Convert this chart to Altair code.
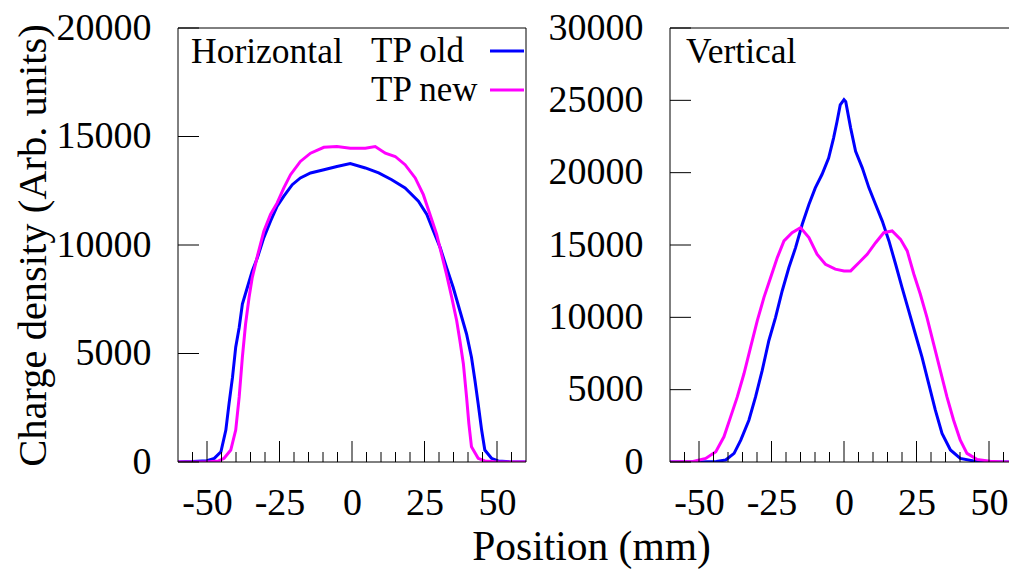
import altair as alt
import pandas as pd

FONT = "Liberation Serif"
series = ["TP old", "TP new"]
colors = ["#0000ff", "#ff00ff"]
panel_titles = ["Horizontal", "Vertical"]
x_title = "Position (mm)"
y_title = "Charge density (Arb. units)"

# Horizontal profile
h_old_x = [-60, -55, -50, -47.5, -45.2, -43.5, -42.4, -41.2, -40.1, -38.9, -37.8, -36.1, -34.4, -32.6,
           -30.4, -28.1, -25.8, -23.5, -20.6, -17.8, -14.3, -9.7, -5.2, -0.6, 4.6, 9.2, 13.7, 18.3,
           22.9, 25.8, 28.1, 30.4, 32.6, 34.9, 37.2, 39.5, 41.2, 42.4, 43.5, 44.7, 45.8, 48.1, 50.4, 55, 60]
h_old_y = [0, 20, 60, 170, 470, 1470, 2690, 3910, 5290, 6200, 7280, 8040, 8800, 9420,
           10340, 11100, 11790, 12250, 12780, 13090, 13320, 13470, 13620, 13750, 13550, 13320, 13010, 12630,
           12020, 11410, 10640, 9880, 8960, 8040, 6970, 5900, 4830, 3760, 2690, 1470, 550, 170, 50, 0, 0]
h_new_x = [-60, -50, -46, -44.1, -41.8, -40.1, -38.9, -37.8, -36.7, -35.5, -34.4, -32.6, -30.4, -28.1,
           -25.8, -23.5, -21.2, -17.8, -14.3, -9.7, -5.2, -0.6, 4.6, 8.0, 11.5, 14.9, 18.3, 21.8,
           24.6, 26.9, 29.2, 30.9, 32.6, 34.4, 36.1, 37.2, 38.4, 39.5, 40.3, 41.2, 43.5, 45.8, 50, 60]
h_new_y = [0, 0, 50, 170, 550, 1470, 3000, 4830, 6360, 7580, 8500, 9500, 10640, 11410,
           11940, 12630, 13240, 13850, 14230, 14500, 14540, 14460, 14460, 14540, 14230, 14080, 13700, 13090,
           12320, 11410, 10490, 9570, 8650, 7580, 6510, 5600, 4530, 3000, 1770, 700, 170, 50, 0, 0]

# Vertical profile
v_old_x = [-60, -50, -44, -40.8, -37.9, -35.6, -32.8, -30.5, -28.2, -25.9, -23.6, -21.3, -19.0, -16.7,
           -14.4, -12.1, -9.9, -7.6, -5.3, -3.6, -2.4, -1.3, 0, 0.6, 2.3, 4.0, 6.3, 8.6, 10.9, 13.2,
           15.5, 17.8, 20.0, 22.3, 24.6, 26.9, 29.2, 31.5, 33.8, 36.7, 40.1, 44.7, 50, 60]
v_old_y = [0, 0, 40, 140, 600, 1510, 2890, 4500, 6330, 8400, 10000, 11840, 13440, 14820,
           16430, 17800, 18950, 19870, 21010, 22390, 23540, 24680, 25050, 24910, 23080, 21470, 20330, 18950, 17800, 16650,
           15280, 13670, 12070, 10460, 8850, 7250, 5410, 3580, 1970, 830, 250, 70, 0, 0]
v_new_x = [-60, -52, -47.7, -44.2, -41.4, -39.1, -36.8, -34.5, -32.2, -29.9, -27.6, -25.3, -23.0, -20.7,
           -17.9, -15.0, -12.1, -9.3, -6.4, -3.0, 0, 2.3, 5.2, 8.0, 10.9, 13.7, 16.6, 19.5, 21.8,
           24.1, 26.3, 28.6, 30.9, 33.2, 35.5, 37.8, 40.1, 42.4, 45.8, 50.4, 55, 60]
v_new_y = [0, 30, 250, 710, 1740, 3120, 4500, 6100, 7940, 9770, 11380, 12750, 14130, 15280,
           15850, 16200, 15510, 14360, 13670, 13330, 13210, 13210, 13790, 14360, 15160, 15850, 15970, 15390, 14590,
           12980, 11610, 10000, 8170, 6330, 4500, 2890, 1510, 600, 180, 50, 0, 0]

major_x = [-50, -25, 0, 25, 50]
minor_x = [-55, -45, -40, -35, -30, -20, -15, -10, -5, 5, 10, 15, 20, 30, 35, 40, 45, 55]
y_ticks_h = [0, 5000, 10000, 15000, 20000]
y_ticks_v = [0, 5000, 10000, 15000, 20000, 25000, 30000]

H = 434
W = 348
X_DOM = [-60, 60]
PAD_L, PAD_T = 170, 20
SVG_W, SVG_H = 1001, 562


def lines_df(ox, oy, nx, ny):
    return pd.concat([
        pd.DataFrame({"pos": ox, "val": oy, "series": series[0]}),
        pd.DataFrame({"pos": nx, "val": ny, "series": series[1]}),
    ], ignore_index=True)


def panel(df, ydom, yticks, ptitle, ptitle_x, left):
    xs = alt.Scale(domain=X_DOM, nice=False, zero=False)
    ys = alt.Scale(domain=ydom, nice=False, zero=False)
    common = dict(ticks=False, tickSize=0, domain=False, grid=False, labelFont=FONT, labelFontSize=38,
                  labelColor="black", labelExpr="'' + datum.value", labelFlush=False, labelOverlap=False)
    if left:
        xaxis = alt.Axis(values=major_x, labelBaseline="alphabetic", labelPadding=52,
                         title=x_title, titleFont=FONT, titleFontSize=41.5, titleFontWeight="normal",
                         titleColor="black", titleX=413, titleY=97, titleAlign="center",
                         titleBaseline="alphabetic", **common)
        yaxis = alt.Axis(values=yticks, labelPadding=27,
                         title=y_title, titleFont=FONT, titleFontSize=40.5, titleFontWeight="normal",
                         titleColor="black", titleX=-133, titleY=H / 2, titleAngle=270,
                         titleAlign="center", titleBaseline="alphabetic", **common)
    else:
        xaxis = alt.Axis(values=major_x, labelBaseline="alphabetic", labelPadding=52, title=None, **common)
        yaxis = alt.Axis(values=yticks, labelPadding=27, title=None, **common)

    lines = alt.Chart(df).mark_line(strokeWidth=3, clip=True).encode(
        x=alt.X("pos:Q", scale=xs, axis=xaxis),
        y=alt.Y("val:Q", scale=ys, axis=yaxis),
        color=alt.Color("series:N", scale=alt.Scale(domain=series, range=colors), legend=None),
        detail="series:N",
    )

    maj = alt.Chart(pd.DataFrame({"pos": major_x})).mark_rule(color="black", strokeWidth=1).encode(
        x=alt.X("pos:Q", scale=xs, axis=xaxis), y=alt.value(H), y2=alt.value(H - 21))
    mnr = alt.Chart(pd.DataFrame({"pos": minor_x})).mark_rule(color="black", strokeWidth=1).encode(
        x=alt.X("pos:Q", scale=xs, axis=xaxis), y=alt.value(H), y2=alt.value(H - 10))
    yt = alt.Chart(pd.DataFrame({"val": yticks})).mark_rule(color="black", strokeWidth=1).encode(
        y=alt.Y("val:Q", scale=ys, axis=yaxis), x=alt.value(0), x2=alt.value(21))

    one = pd.DataFrame({"k": [0]})
    border = alt.Chart(one).mark_rect(filled=False, stroke="black", strokeWidth=1).encode(
        x=alt.value(0), x2=alt.value(W), y=alt.value(0), y2=alt.value(H))
    layers = [lines, maj, mnr, yt, border]

    layers.append(alt.Chart(one).mark_text(font=FONT, fontSize=35.5, align="left",
                                           baseline="alphabetic", color="black").encode(
        x=alt.value(ptitle_x), y=alt.value(35), text=alt.value(ptitle)))

    if left:
        for i, (lab, col) in enumerate(zip(series, colors)):
            yy = 23 + 39 * i
            layers.append(alt.Chart(one).mark_text(font=FONT, fontSize=35, align="left",
                                                   baseline="alphabetic", color="black").encode(
                x=alt.value(193), y=alt.value(yy + 11), text=alt.value(lab)))
            layers.append(alt.Chart(one).mark_rule(color=col, strokeWidth=3).encode(
                x=alt.value(312), x2=alt.value(346), y=alt.value(yy)))

    return alt.layer(*layers).properties(width=W, height=H)


left = panel(lines_df(h_old_x, h_old_y, h_new_x, h_new_y), [0, 20000], y_ticks_h,
             panel_titles[0], 13, True)
right = panel(lines_df(v_old_x, v_old_y, v_new_x, v_new_y), [0, 30000], y_ticks_v,
              panel_titles[1], 16, False)

chart = alt.hconcat(left, right, spacing=144, bounds="flush").configure_view(stroke=None).properties(
    autosize=alt.AutoSizeParams(type="none"),
    padding={"left": PAD_L, "top": PAD_T, "right": SVG_W - PAD_L, "bottom": SVG_H - PAD_T},
    background="white")

chart.save("out.html", embed_options={"renderer": "svg", "actions": False})
